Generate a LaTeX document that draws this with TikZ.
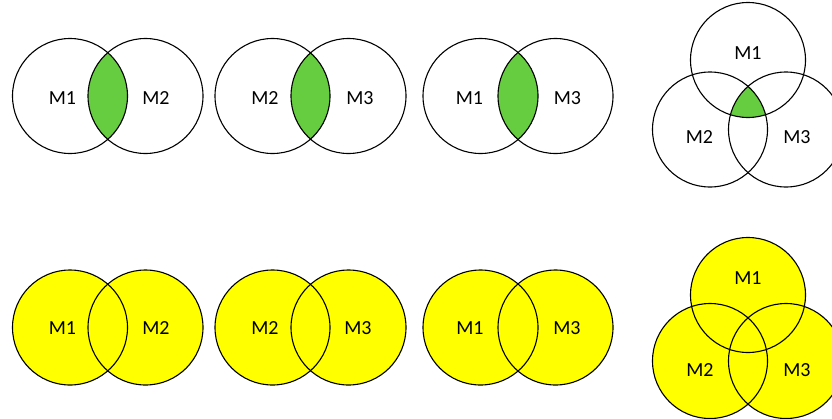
\documentclass[tikz,border=0pt]{standalone}
\usepackage{fontspec}
\setmainfont{Carlito}
\definecolor{lensgreen}{RGB}{102,204,64}
\definecolor{venyellow}{RGB}{255,255,0}
\begin{document}
\begin{tikzpicture}[x=1pt,y=-1pt,
  ring/.style={circle,draw=black,line width=1.1pt,minimum size=115pt,inner sep=0pt},
  lbl/.style={font=\fontsize{20}{22}\selectfont,inner sep=0pt,anchor=center}]
\useasboundingbox (0,0) rectangle (832,418);
\clip (0,0) rectangle (832,418);
% ---------- top row: intersections ----------
\begin{scope}
  \clip (70,96) circle (57.5);
  \fill[lensgreen] (145.5,96) circle (57.5);
\end{scope}
\begin{scope}
  \clip (272.5,96) circle (57.5);
  \fill[lensgreen] (348.5,96) circle (57.5);
\end{scope}
\begin{scope}
  \clip (480.5,96) circle (57.5);
  \fill[lensgreen] (555.5,96) circle (57.5);
\end{scope}
\begin{scope}
  \clip (748,60) circle (57.5);
  \clip (710,129.5) circle (57.5);
  \fill[lensgreen] (786,129.5) circle (57.5);
\end{scope}
\node[ring] (a1) at (70,96) {};
\node[ring] (a2) at (145.5,96) {};
\node[ring] (b1) at (272.5,96) {};
\node[ring] (b2) at (348.5,96) {};
\node[ring] (c1) at (480.5,96) {};
\node[ring] (c2) at (555.5,96) {};
\node[ring] (t1) at (748,60) {};
\node[ring] (t2) at (710,129.5) {};
\node[ring] (t3) at (786,129.5) {};
\node[lbl] (la1) at (62.5,98) {M1};
\node[lbl] (la2) at (156,98) {M2};
\node[lbl] (lb1) at (265,98) {M2};
\node[lbl] (lb2) at (360,98) {M3};
\node[lbl] (lc1) at (469.5,98) {M1};
\node[lbl] (lc2) at (567.5,98) {M3};
\node[lbl] (lt1) at (748,53) {M1};
\node[lbl] (lt2) at (699.5,137.5) {M2};
\node[lbl] (lt3) at (797,137.5) {M3};
% ---------- bottom row: unions ----------
\fill[venyellow] (70,327.5) circle (57.5) (145.5,327.5) circle (57.5);
\fill[venyellow] (272.5,327.5) circle (57.5) (348.5,327.5) circle (57.5);
\fill[venyellow] (480.5,327.5) circle (57.5) (555.5,327.5) circle (57.5);
\fill[venyellow] (748,295) circle (57.5) (710,361) circle (57.5) (786,361) circle (57.5);
\node[ring] (d1) at (70,327.5) {};
\node[ring] (d2) at (145.5,327.5) {};
\node[ring] (e1) at (272.5,327.5) {};
\node[ring] (e2) at (348.5,327.5) {};
\node[ring] (f1) at (480.5,327.5) {};
\node[ring] (f2) at (555.5,327.5) {};
\node[ring] (u1) at (748,295) {};
\node[ring] (u2) at (710,361) {};
\node[ring] (u3) at (786,361) {};
\node[lbl] (ld1) at (62.5,328) {M1};
\node[lbl] (ld2) at (156,328) {M2};
\node[lbl] (le1) at (265,328) {M2};
\node[lbl] (le2) at (358,328) {M3};
\node[lbl] (lf1) at (470,328) {M1};
\node[lbl] (lf2) at (567,328) {M3};
\node[lbl] (lu1) at (748,278) {M1};
\node[lbl] (lu2) at (700,370) {M2};
\node[lbl] (lu3) at (797,370) {M3};
\end{tikzpicture}
\end{document}
